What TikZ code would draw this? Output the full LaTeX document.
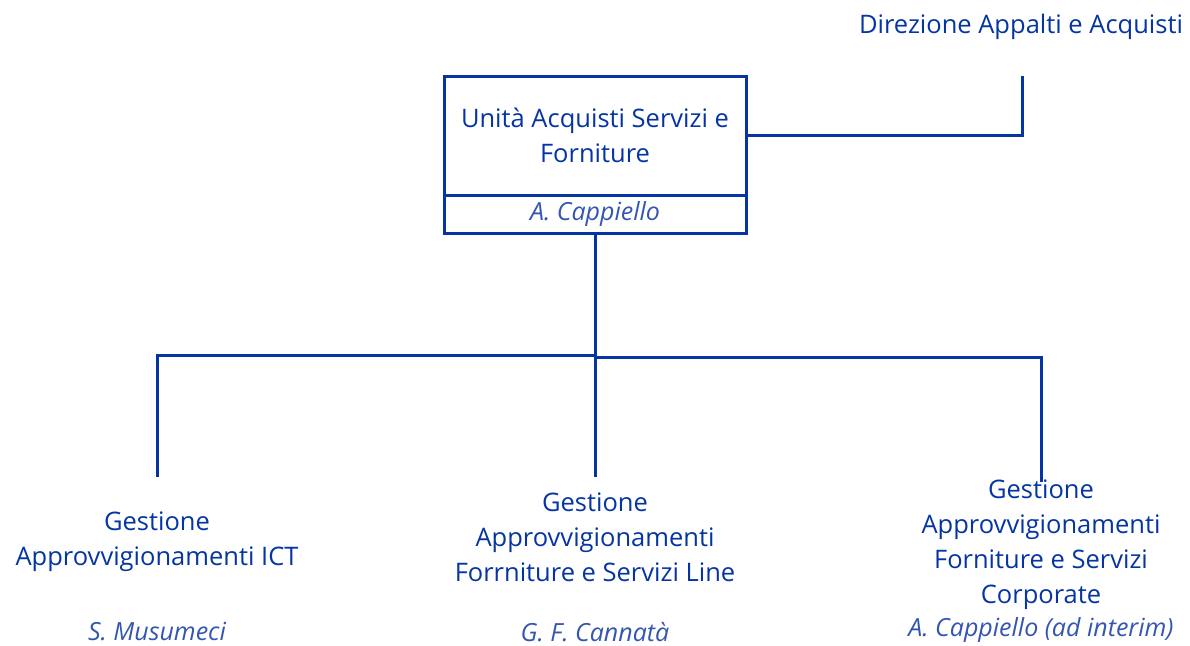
\documentclass[tikz,border=0pt]{standalone}
\usepackage{fontspec}
\setmainfont{Open Sans}
\definecolor{ablue}{HTML}{0535A3}
\definecolor{nblue}{HTML}{3556B0}
\tikzset{
  txt/.style={text=ablue, align=center, inner sep=0pt, font=\fontsize{25.5}{35}\selectfont},
  nm/.style={text=nblue, inner sep=0pt, font=\fontsize{25}{30}\selectfont\itshape},
  ln/.style={draw=ablue, line width=3pt},
  boxx/.style={draw=ablue, line width=3pt, minimum width=302pt, inner sep=0pt}
}
\begin{document}
\begin{tikzpicture}[x=1pt,y=-1pt]
\useasboundingbox (0,0) rectangle (1190,645);
% top box
\node[boxx, minimum height=119pt, txt] (main) at (595,135.5) {Unità Acquisti Servizi e\\Forniture};
\node[boxx, minimum height=38pt, nm] (mainname) at (595,214) {A. Cappiello};
% direzione
\node[txt] (dir) at (1021,27) {Direzione Appalti e Acquisti};
\coordinate (dirend) at (1022,76);
\draw[ln] (main.east) -- (main.east -| dirend) -- (dirend);
% children
\node[txt] (c1) at (157,541.5) {Gestione\\Approvvigionamenti ICT};
\node[nm] (n1) at (157,631) {S. Musumeci};
\node[txt] (c2) at (595,537.5) {Gestione\\Approvvigionamenti\\Forrniture e Servizi Line};
\node[nm] (n2) at (595,632) {G. F. Cannatà};
\node[txt] (c3) at (1041,544.5) {Gestione\\Approvvigionamenti\\Forniture e Servizi\\Corporate};
\node[nm] (n3) at (1041,630) {A. Cappiello (ad interim)};
\coordinate (e1) at (157,477);
\coordinate (e2) at (595,477);
\coordinate (e3) at (1041,482);
\coordinate (j) at (595,355);
\draw[ln] (mainname.south) -- (e2);
\draw[ln] (j) -- (157,355) -- (e1);
\draw[ln] (595,357) -- (1041,357) -- (e3);
\end{tikzpicture}
\end{document}
